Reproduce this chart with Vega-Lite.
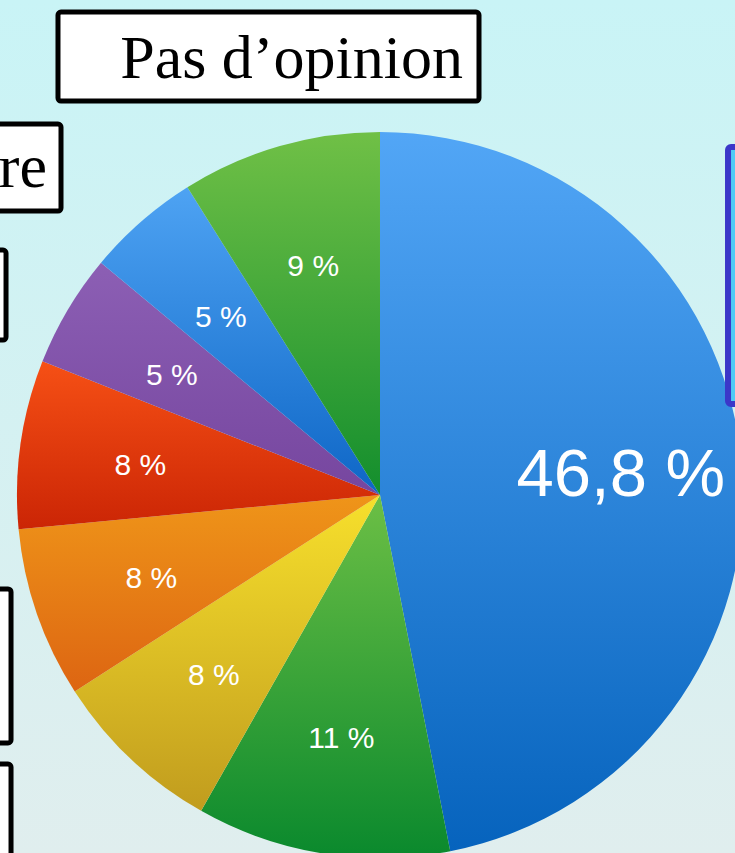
{
  "$schema": "https://vega.github.io/schema/vega-lite/v6.json",
  "width": 735,
  "height": 853,
  "padding": 0,
  "autosize": {"type": "none"},
  "background": "#d4f2f3",
  "view": {
    "stroke": null,
    "fill": {"gradient": "linear", "x1": 0, "y1": 0, "x2": 0, "y2": 1,
      "stops": [{"offset": 0, "color": "#c9f4f6"}, {"offset": 1, "color": "#e0eeee"}]}
  },
  "config": {"font": "Liberation Sans"},
  "datasets": {
    "slices": [
      {"rank": 1, "slice": "Bleu", "share": 46.9, "label": "46,8 %"},
      {"rank": 2, "slice": "Vert", "share": 11.3, "label": "11 %"},
      {"rank": 3, "slice": "Jaune", "share": 7.7, "label": "8 %"},
      {"rank": 4, "slice": "Orange", "share": 7.6, "label": "8 %"},
      {"rank": 5, "slice": "Rouge", "share": 7.5, "label": "8 %"},
      {"rank": 6, "slice": "Violet", "share": 5.05, "label": "5 %"},
      {"rank": 7, "slice": "Bleu clair", "share": 5.05, "label": "5 %"},
      {"rank": 8, "slice": "Pas d'opinion", "share": 8.9, "label": "9 %"}
    ],
    "boxes": [
      {"x0": 7.89, "x1": 65.17, "y0": 1.41, "y1": 11.84},
      {"x0": -2.72, "x1": 8.3, "y0": 14.54, "y1": 24.74},
      {"x0": -2.72, "x1": 0.82, "y0": 29.31, "y1": 39.86},
      {"x0": -2.72, "x1": 1.5, "y0": 69.05, "y1": 87.1},
      {"x0": -2.72, "x1": 1.5, "y0": 89.57, "y1": 105.5}
    ],
    "blueBox": [
      {"x0": 99.05, "x1": 108.8, "y0": 17.23, "y1": 47.36}
    ],
    "boxLabels": [
      {"text": "Pas d’opinion", "x": 62.99, "y": 9.14},
      {"text": "re", "x": 6.39, "y": 21.92}
    ]
  },
  "layer": [
    {
      "data": {"name": "slices"},
      "mark": {"type": "arc", "radius": 363},
      "encoding": {
        "theta": {"field": "share", "type": "quantitative", "stack": true},
        "order": {"field": "rank", "type": "quantitative"},
        "x": {"datum": 51.7, "type": "quantitative", "scale": {"domain": [0, 100]}, "axis": null},
        "y": {"datum": 58.03, "type": "quantitative", "scale": {"domain": [0, 100], "reverse": true}, "axis": null},
        "fill": {
          "condition": [
            {"test": "datum.rank == 1", "value": {"gradient": "linear", "x1": 0, "y1": 0, "x2": 0, "y2": 1, "stops": [{"offset": 0, "color": "#52a6f6"}, {"offset": 1, "color": "#0663bd"}]}},
            {"test": "datum.rank == 2", "value": {"gradient": "linear", "x1": 0, "y1": 0, "x2": 0, "y2": 1, "stops": [{"offset": 0, "color": "#6cbf45"}, {"offset": 1, "color": "#0a892d"}]}},
            {"test": "datum.rank == 3", "value": {"gradient": "linear", "x1": 0, "y1": 0, "x2": 0, "y2": 1, "stops": [{"offset": 0, "color": "#f7e02c"}, {"offset": 1, "color": "#c19c1e"}]}},
            {"test": "datum.rank == 4", "value": {"gradient": "linear", "x1": 0, "y1": 0, "x2": 0, "y2": 1, "stops": [{"offset": 0, "color": "#ef9519"}, {"offset": 1, "color": "#dd6512"}]}},
            {"test": "datum.rank == 5", "value": {"gradient": "linear", "x1": 0, "y1": 0, "x2": 0, "y2": 1, "stops": [{"offset": 0, "color": "#f65015"}, {"offset": 1, "color": "#cb2505"}]}},
            {"test": "datum.rank == 6", "value": {"gradient": "linear", "x1": 0, "y1": 0, "x2": 0, "y2": 1, "stops": [{"offset": 0, "color": "#8c5fb4"}, {"offset": 1, "color": "#76469f"}]}},
            {"test": "datum.rank == 7", "value": {"gradient": "linear", "x1": 0, "y1": 0, "x2": 0, "y2": 1, "stops": [{"offset": 0, "color": "#4ea3f3"}, {"offset": 1, "color": "#0e66c6"}]}},
            {"test": "datum.rank == 8", "value": {"gradient": "linear", "x1": 0, "y1": 0, "x2": 0, "y2": 1, "stops": [{"offset": 0, "color": "#70c046"}, {"offset": 1, "color": "#138e2d"}]}}
          ],
          "value": "#888888"
        }
      }
    },
    {
      "data": {"name": "slices"},
      "mark": {"type": "text", "radius": 242, "fill": "#ffffff", "align": "center", "baseline": "middle", "font": "Liberation Sans"},
      "encoding": {
        "theta": {"field": "share", "type": "quantitative", "stack": true},
        "order": {"field": "rank", "type": "quantitative"},
        "x": {"datum": 51.7, "type": "quantitative", "scale": {"domain": [0, 100]}, "axis": null},
        "y": {"datum": 58.03, "type": "quantitative", "scale": {"domain": [0, 100], "reverse": true}, "axis": null},
        "yOffset": {"condition": {"test": "datum.rank == 1", "value": 10}, "value": 5},
        "text": {"field": "label"},
        "size": {"condition": {"test": "datum.rank == 1", "value": 67}, "value": 30}
      }
    },
    {
      "data": {"name": "boxes"},
      "mark": {"type": "rect", "fill": "#ffffff", "stroke": "#000000", "strokeWidth": 5, "cornerRadius": 3},
      "encoding": {
        "x": {"field": "x0", "type": "quantitative", "scale": {"domain": [0, 100]}, "axis": null},
        "x2": {"field": "x1"},
        "y": {"field": "y0", "type": "quantitative", "scale": {"domain": [0, 100], "reverse": true}, "axis": null},
        "y2": {"field": "y1"}
      }
    },
    {
      "data": {"name": "blueBox"},
      "mark": {"type": "rect", "fill": "#4ecbf5", "stroke": "#3b37c9", "strokeWidth": 6, "cornerRadius": 3},
      "encoding": {
        "x": {"field": "x0", "type": "quantitative", "scale": {"domain": [0, 100]}, "axis": null},
        "x2": {"field": "x1"},
        "y": {"field": "y0", "type": "quantitative", "scale": {"domain": [0, 100], "reverse": true}, "axis": null},
        "y2": {"field": "y1"}
      }
    },
    {
      "data": {"name": "boxLabels"},
      "mark": {"type": "text", "align": "right", "baseline": "alphabetic", "font": "Liberation Serif", "fontSize": 62, "fill": "#000000"},
      "encoding": {
        "x": {"field": "x", "type": "quantitative", "scale": {"domain": [0, 100]}, "axis": null},
        "y": {"field": "y", "type": "quantitative", "scale": {"domain": [0, 100], "reverse": true}, "axis": null},
        "text": {"field": "text"}
      }
    }
  ]
}
